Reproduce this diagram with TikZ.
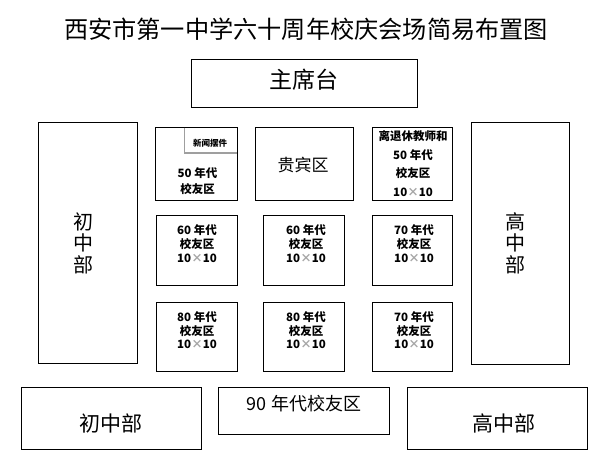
\documentclass[tikz,border=0pt]{standalone}
\usepackage{fontspec}
\setmainfont{Noto Sans CJK SC}
\usetikzlibrary{positioning}
\tikzset{
  box/.style={draw=black, line width=0.8pt, rectangle, inner sep=0pt, anchor=north west},
  lbl/.style={align=center, inner sep=0pt, font=\fontsize{11.5}{14}\selectfont\bfseries},
  vert/.style={align=center, inner sep=0pt, font=\fontsize{20}{21.5}\selectfont},
}
\newcommand{\xx}{{\color{black!35}×}}
\begin{document}
\begin{tikzpicture}[x=1pt,y=-1pt]
\useasboundingbox (0,0) rectangle (597,474);
% title
\node[inner sep=0pt, font=\fontsize{24.2}{24.2}\selectfont] (title) at (306,29) {西安市第一中学六十周年校庆会场简易布置图};
% stage
\node[box, minimum width=226pt, minimum height=48pt] (stage) at (191,59) {};
\node[inner sep=0pt, font=\fontsize{23}{23}\selectfont] (stagetxt) at (303.5,80) {主席台};
% side tall boxes
\node[box, minimum width=99pt, minimum height=241pt] (leftbox) at (38,122) {};
\node[vert] (lefttxt) at (83,243) {初\\中\\部};
\node[box, minimum width=98pt, minimum height=242pt] (rightbox) at (471,122) {};
\node[vert] (righttxt) at (515.5,243) {高\\中\\部};
% row 1
\node[box, minimum width=82pt, minimum height=73pt] (r1a) at (155,127) {};
\draw[gray!75, line width=1.6pt] (184.5,127.5) coordinate (na) -- (184.5,153) coordinate (nb) -- (236.6,153) coordinate (nc);
\node[inner sep=0pt, font=\fontsize{8.5}{9}\selectfont\bfseries] (newstxt) at (210,143) {新闻摆件};
\node[lbl, font=\fontsize{11.5}{16}\selectfont\bfseries] (r1atxt) at (197.5,181) {50 年代\\校友区};
\node[box, minimum width=98pt, minimum height=73pt] (r1b) at (255,127) {};
\node[inner sep=0pt, font=\fontsize{17}{17}\selectfont] (r1btxt) at (303,165) {贵宾区};
\node[box, minimum width=80pt, minimum height=73pt] (r1c) at (372,127) {};
\node[lbl, font=\fontsize{11.5}{18.6}\selectfont\bfseries] (r1ctxt) at (413,163.5) {离退休教师和\\50 年代\\校友区\\10\xx10};
% row 2
\node[box, minimum width=81pt, minimum height=70pt] (r2a) at (156,215) {};
\node[lbl] (r2atxt) at (197,244) {60 年代\\校友区\\10\xx10};
\node[box, minimum width=81pt, minimum height=70pt] (r2b) at (263,215) {};
\node[lbl] (r2btxt) at (306,244) {60 年代\\校友区\\10\xx10};
\node[box, minimum width=80pt, minimum height=70pt] (r2c) at (372,215) {};
\node[lbl] (r2ctxt) at (414,244) {70 年代\\校友区\\10\xx10};
% row 3
\node[box, minimum width=81pt, minimum height=69pt] (r3a) at (156,302) {};
\node[lbl, font=\fontsize{11.5}{13.5}\selectfont\bfseries] (r3atxt) at (197,330.5) {80 年代\\校友区\\10\xx10};
\node[box, minimum width=81pt, minimum height=69pt] (r3b) at (263,302) {};
\node[lbl, font=\fontsize{11.5}{13.5}\selectfont\bfseries] (r3btxt) at (306,330.5) {80 年代\\校友区\\10\xx10};
\node[box, minimum width=80pt, minimum height=69pt] (r3c) at (372,302) {};
\node[lbl, font=\fontsize{11.5}{13.5}\selectfont\bfseries] (r3ctxt) at (414,330.5) {70 年代\\校友区\\10\xx10};
% bottom row
\node[box, minimum width=180pt, minimum height=62pt] (botl) at (21,387) {};
\node[inner sep=0pt, font=\fontsize{21}{21}\selectfont] (botltxt) at (111,423) {初中部};
\node[box, minimum width=171pt, minimum height=47pt] (botm) at (218,387) {};
\node[inner sep=0pt, font=\fontsize{18}{18}\selectfont] (botmtxt) at (304,404) {90 年代校友区};
\node[box, minimum width=180pt, minimum height=62pt] (botr) at (407,387) {};
\node[inner sep=0pt, font=\fontsize{21}{21}\selectfont] (botrtxt) at (504,423) {高中部};
\end{tikzpicture}
\end{document}
